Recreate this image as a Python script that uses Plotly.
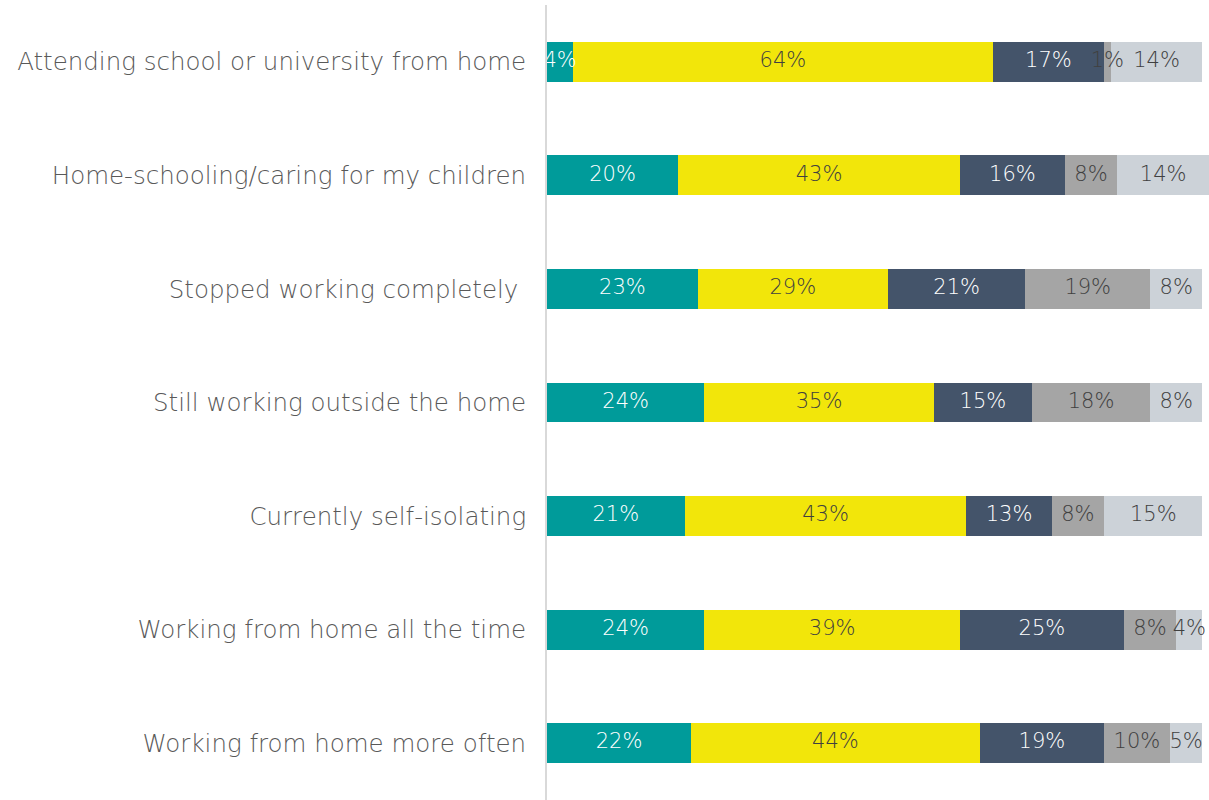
import plotly.graph_objects as go

categories = [
    "Attending school or university from home",
    "Home-schooling/caring for my children",
    "Stopped working completely ",
    "Still working outside the home",
    "Currently self-isolating",
    "Working from home all the time",
    "Working from home more often",
]
series_names = ["S1", "S2", "S3", "S4", "S5"]
s1 = [4, 20, 23, 24, 21, 24, 22]
s2 = [64, 43, 29, 35, 43, 39, 44]
s3 = [17, 16, 21, 15, 13, 25, 19]
s4 = [1, 8, 19, 18, 8, 8, 10]
s5 = [14, 14, 8, 8, 15, 4, 5]
series_values = [s1, s2, s3, s4, s5]

colors = ["#009B9A", "#F2E60A", "#44546A", "#A5A5A5", "#CCD2D8"]
text_colors = ["#FFFFFF", "#404040", "#FFFFFF", "#404040", "#404040"]

FONT = "DejaVu Sans ExtraLight, DejaVu Sans"

fig = go.Figure()
for name, vals, c in zip(series_names, series_values, colors):
    fig.add_trace(go.Bar(
        y=categories, x=vals, name=name, orientation="h",
        marker=dict(color=c, line=dict(width=0)),
        width=0.35,
        hoverinfo="skip",
    ))

# data labels drawn on top of all bars, at segment centres derived from the data
base = [0] * len(categories)
for name, vals, tc in zip(series_names, series_values, text_colors):
    mids = [b + v / 2 for b, v in zip(base, vals)]
    base = [b + v for b, v in zip(base, vals)]
    fig.add_trace(go.Scatter(
        y=categories, x=mids, mode="text",
        text=[f"{v}%" for v in vals],
        textposition="middle center",
        textfont=dict(family=FONT, size=21, color=tc, weight=200),
        cliponaxis=False, hoverinfo="skip", showlegend=False,
    ))

fig.update_layout(
    barmode="stack",
    width=1209, height=800,
    margin=dict(l=547, r=0, t=5, b=0, autoexpand=False),
    paper_bgcolor="white", plot_bgcolor="white",
    showlegend=False,
    font=dict(family=FONT, color="#595959"),
    xaxis=dict(range=[0, 101], visible=False, fixedrange=True, automargin=False),
    yaxis=dict(
        autorange="reversed", automargin=False, fixedrange=True,
        showline=True, linecolor="#D9D9D9", linewidth=2,
        showgrid=False, zeroline=False,
        ticks="", ticklabelstandoff=14,
        tickfont=dict(family=FONT, size=24.5, color="#595959", weight=200),
    ),
)

fig.write_html("out.html", config={"displayModeBar": False},
               post_script="document.body.style.margin='0';")
